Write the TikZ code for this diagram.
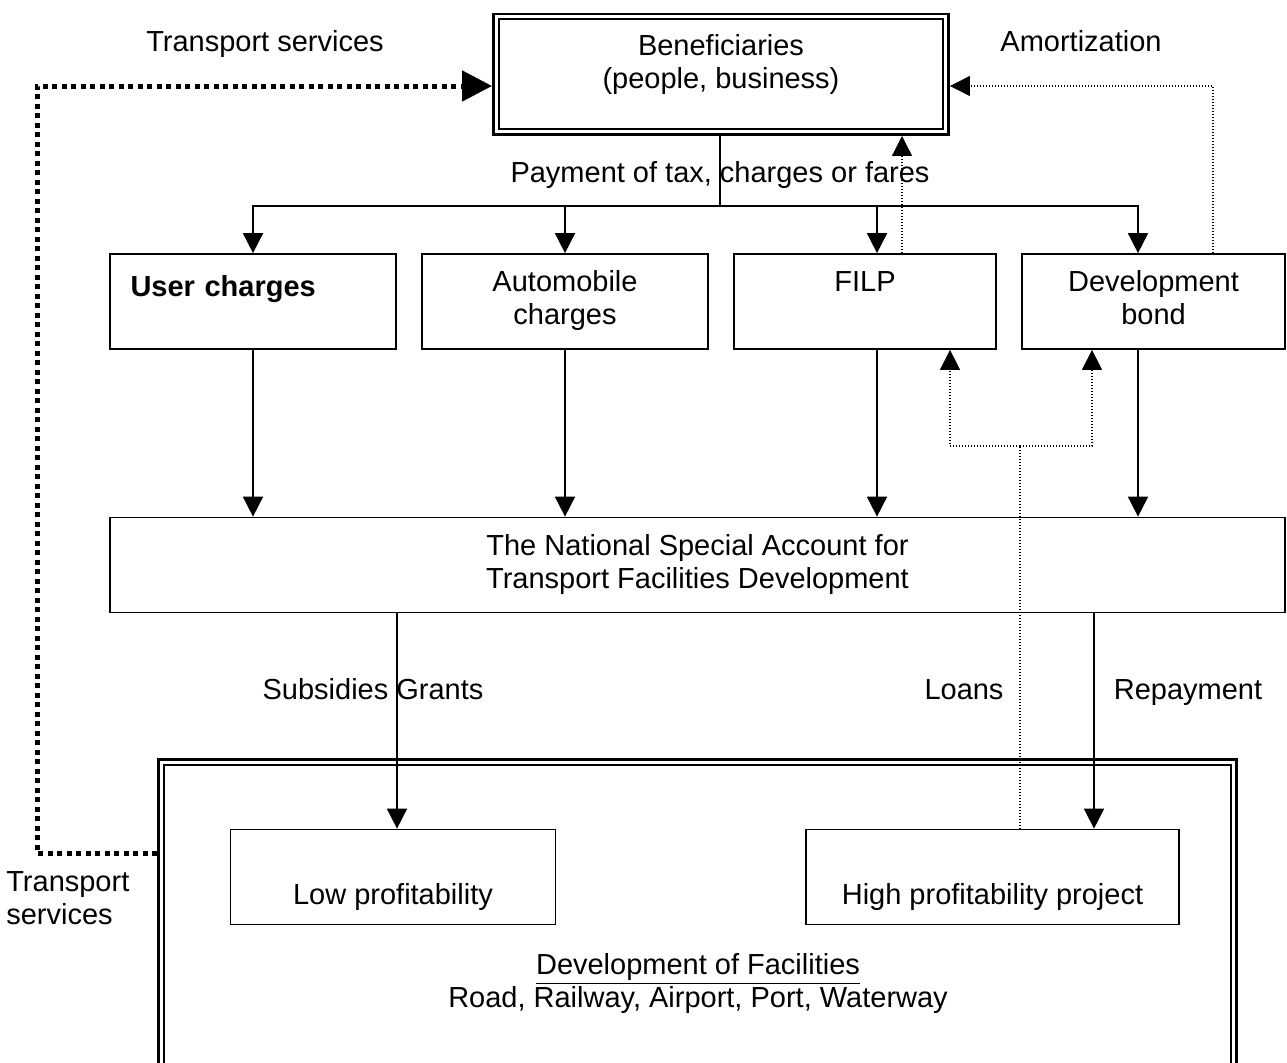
\documentclass[tikz,border=0pt]{standalone}
\usepackage{fontspec}
\setmainfont{Liberation Sans}
\usepackage{tikz}
\usetikzlibrary{arrows.meta}

\begin{document}
\begin{tikzpicture}[x=0.02cm, y=-0.02cm, >={Triangle[length=0.4cm,width=0.4cm]},
  main_node/.style={draw, line width=0.035cm, inner sep=0pt, align=center, minimum height=1.9cm, font=\fontsize{16.5}{18.8}\selectfont},
  double_node/.style={main_node, double, line width=0.045cm, double distance=0.06cm, outer sep=0.08cm},
  label_node/.style={inner sep=0pt, align=center, text height=11.9pt, text depth=3.5pt, font=\fontsize{16.5}{18.8}\selectfont},
  solid_line/.style={line width=0.035cm},
  dot_line/.style={line width=0.025cm, dash pattern=on 0.02cm off 0.04cm},
  thick_dot_line/.style={line width=0.1cm, dash pattern=on 0.1cm off 0.09cm}]

    \clip (0,0) rectangle (1287,1062);

    \node[double_node, minimum width=9.0cm, minimum height=2.31cm] (0) at (721,74.25) {\strut Beneficiaries\\\strut(people, business)\\[-0.31cm]\strut};
    \node[main_node, minimum width=5.73cm, text width=4.9cm, align=left] (1) at (253,301.5) {\strut\textbf{User charges}\\[-0.2cm]\strut};
    \node[main_node, minimum width=5.73cm] (2) at (565,301.5) {\strut Automobile\\\strut charges};
    \node[main_node, minimum width=5.25cm] (3) at (865,301.5) {\strut FILP\\\strut};
    \node[main_node, minimum width=5.27cm] (4) at (1153.5,301.5) {\strut Development\\\strut bond};
    \node[main_node, minimum width=23.5cm] (5) at (697.5,565) {\strut The National Special Account for\\\strut Transport Facilities Development};
    \node[double_node, minimum width=21.46cm, minimum height=6.56cm] (6) at (697.5,926) {};
    \node[main_node, minimum width=6.5cm] (7) at (393,877) {\strut\\[0.16cm]\strut Low profitability};
    \node[main_node, minimum width=7.47cm] (8) at (992.5,877) {\strut\\[0.16cm]\strut High profitability project};

    \node[label_node] (9) at (265,44) {Transport services};
    \node[label_node] (10) at (1081,44) {Amortization};
    \node[label_node] (11) at (720,175) {Payment of tax, charges or fares};
    \node[label_node] (12) at (373,692) {Subsidies Grants};
    \node[label_node] (13) at (964,692) {Loans};
    \node[label_node] (14) at (1188,692) {Repayment};
    \node[inner sep=0pt, anchor=west, align=left, font=\fontsize{16.5}{18.8}\selectfont] (15) at (6,901) {\strut Transport\\\strut services};
    \node[inner sep=0pt, align=center, font=\fontsize{16.5}{18.8}\selectfont] (16) at (698,984.5) {\strut\underline{Development of Facilities}\\\strut Road, Railway, Airport, Port, Waterway};

    \coordinate (j) at (720,206);
    \coordinate (k) at (37,86);
    \coordinate (m) at (1020,446);

    % payments
    \draw[solid_line] (0.south -| j) -- (j);
    \draw[solid_line, ->] (j) -| (1.north);
    \draw[solid_line, ->] (j) -| (2.north);
    \draw[solid_line, ->] (j) -| (3.north -| 877,0);
    \draw[solid_line, ->] (j) -| (4.north -| 1138,0);

    \draw[solid_line, ->] (1.south) -- (1.south |- 5.north);
    \draw[solid_line, ->] (2.south) -- (2.south |- 5.north);
    \draw[solid_line, ->] (3.south -| 877,0) -- (5.north -| 877,0);
    \draw[solid_line, ->] (4.south -| 1138,0) -- (5.north -| 1138,0);
    \draw[solid_line, ->] (5.south -| 397,0) -- (7.north -| 397,0);
    \draw[solid_line, ->] (5.south -| 1094,0) -- (8.north -| 1094,0);

    % loans and amortization
    \draw[dot_line, ->] (3.north -| 902,0) -- (0.south -| 902,0);
    \draw[dot_line, ->] (4.north -| 1213,0) |- (0.east |- 0,86);
    \draw[dot_line] (8.north -| m) -- (m);
    \draw[dot_line, ->] (m) -| (3.south -| 950,0);
    \draw[dot_line, ->] (m) -| (4.south -| 1092,0);

    % transport services
    \draw[thick_dot_line, -{Triangle[length=0.6cm,width=0.6cm]}] (6.west |- 0,853) -| (k) -- (0.west |- k);
    \end{tikzpicture}
\end{document}
